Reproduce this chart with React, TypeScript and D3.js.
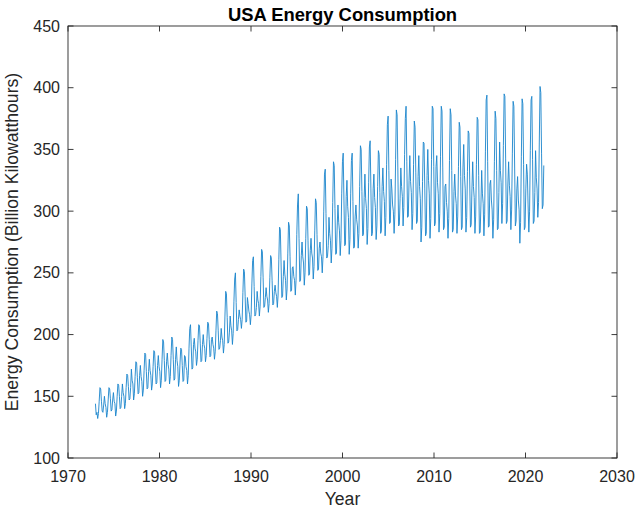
import React from "react";
import * as d3 from "d3";

// monthly values, Jan 1973 .. Dec 2022, billion kWh
const startYear = 1973;
const endYear = 2022;
const consumption: number[] = [
    144, 135, 137, 132, 136, 146, 157, 156, 146, 138, 137, 143, // 1973
    150, 144, 141, 133, 137, 147, 157, 156, 148, 138, 139, 147, // 1974
    153, 146, 144, 134, 138, 150, 160, 159, 150, 140, 141, 150, // 1975
    160, 153, 150, 140, 144, 157, 168, 167, 158, 147, 148, 157, // 1976
    172, 163, 160, 147, 152, 166, 178, 177, 165, 152, 153, 167, // 1977
    175, 166, 162, 150, 155, 171, 185, 184, 170, 156, 157, 170, // 1978
    180, 171, 167, 155, 160, 174, 187, 186, 173, 160, 161, 175, // 1979
    183, 174, 170, 157, 163, 180, 196, 194, 179, 162, 163, 178, // 1980
    185, 176, 172, 160, 166, 183, 198, 196, 180, 163, 164, 180, // 1981
    190, 179, 174, 158, 163, 177, 189, 188, 175, 162, 163, 183, // 1982
    182, 174, 171, 160, 167, 189, 205, 208, 190, 172, 173, 192, // 1983
    197, 189, 186, 175, 180, 195, 208, 207, 193, 178, 179, 192, // 1984
    200, 192, 189, 178, 183, 197, 210, 209, 196, 182, 183, 196, // 1985
    198, 192, 189, 180, 186, 203, 219, 217, 203, 188, 189, 195, // 1986
    205, 198, 195, 185, 192, 215, 235, 233, 214, 193, 194, 202, // 1987
    215, 207, 203, 192, 201, 227, 245, 250, 226, 203, 204, 212, // 1988
    220, 215, 212, 205, 212, 234, 253, 251, 231, 210, 211, 230, // 1989
    225, 219, 216, 208, 216, 241, 260, 263, 239, 215, 216, 222, // 1990
    235, 228, 225, 215, 223, 247, 269, 267, 246, 222, 223, 230, // 1991
    238, 231, 228, 218, 225, 246, 264, 262, 244, 224, 225, 235, // 1992
    240, 234, 231, 222, 232, 261, 287, 285, 258, 230, 231, 247, // 1993
    260, 249, 244, 228, 237, 266, 291, 288, 263, 235, 236, 254, // 1994
    255, 247, 244, 232, 244, 281, 305, 314, 278, 243, 244, 264, // 1995
    275, 263, 258, 240, 250, 278, 304, 302, 276, 248, 249, 268, // 1996
    278, 266, 262, 245, 255, 284, 310, 307, 281, 252, 253, 270, // 1997
    275, 266, 263, 250, 263, 300, 330, 334, 298, 262, 263, 272, // 1998
    295, 282, 276, 258, 270, 307, 340, 337, 302, 265, 266, 288, // 1999
    305, 291, 284, 264, 276, 314, 340, 347, 309, 272, 273, 312, // 2000
    325, 304, 295, 265, 277, 314, 341, 347, 308, 270, 271, 296, // 2001
    305, 293, 288, 270, 282, 320, 353, 350, 316, 280, 281, 311, // 2002
    330, 310, 302, 273, 286, 323, 352, 357, 318, 280, 282, 318, // 2003
    330, 311, 303, 277, 288, 320, 349, 346, 315, 282, 284, 320, // 2004
    335, 316, 308, 280, 295, 338, 370, 377, 333, 290, 291, 326, // 2005
    318, 305, 300, 282, 297, 342, 382, 378, 335, 288, 289, 310, // 2006
    335, 320, 312, 288, 303, 346, 375, 385, 340, 295, 296, 325, // 2007
    345, 324, 315, 285, 298, 338, 373, 368, 331, 290, 292, 328, // 2008
    345, 320, 310, 275, 287, 324, 356, 355, 318, 280, 282, 329, // 2009
    350, 325, 314, 278, 294, 342, 385, 383, 336, 288, 290, 336, // 2010
    345, 323, 314, 283, 298, 344, 385, 381, 335, 285, 287, 320, // 2011
    322, 307, 300, 278, 294, 341, 383, 378, 333, 283, 285, 316, // 2012
    330, 313, 306, 282, 296, 336, 372, 368, 328, 285, 287, 335, // 2013
    354, 329, 318, 283, 295, 332, 365, 363, 326, 287, 289, 318, // 2014
    340, 320, 311, 282, 296, 338, 376, 374, 329, 282, 283, 305, // 2015
    333, 314, 306, 280, 297, 348, 390, 394, 340, 287, 288, 322, // 2016
    325, 309, 301, 278, 293, 340, 381, 375, 333, 285, 286, 315, // 2017
    356, 333, 323, 290, 306, 353, 395, 393, 343, 290, 292, 322, // 2018
    340, 321, 312, 285, 301, 347, 389, 385, 339, 288, 292, 318, // 2019
    328, 309, 301, 274, 291, 344, 391, 387, 338, 285, 287, 318, // 2020
    338, 330, 305, 283, 300, 349, 390, 393, 342, 290, 292, 315, // 2021
    349, 327, 318, 295, 307, 356, 401, 396, 347, 302, 305, 337, // 2022
];

const xTicks = [1970, 1980, 1990, 2000, 2010, 2020, 2030];
const yTicks = [100, 150, 200, 250, 300, 350, 400, 450];

const W = 640;
const H = 514;
const margin = { left: 68, right: 23, top: 26, bottom: 56 };
const axisColor = "#262626";
const lineColor = "#1a84cc";
const font = "Liberation Sans, Arial, Helvetica, sans-serif";

export default function App() {
    const plotW = W - margin.left - margin.right;
    const plotH = H - margin.top - margin.bottom;

    const xScale = d3.scaleLinear().domain([1970, 2030]).range([0, plotW]);
    const yScale = d3.scaleLinear().domain([100, 450]).range([plotH, 0]);
    // sample index -> year, spread evenly between start and end year
    const timeOf = d3.scaleLinear()
        .domain([0, consumption.length - 1])
        .range([startYear, endYear]);

    const line = d3.line<number>()
        .x((d, i) => xScale(timeOf(i)))
        .y(d => yScale(d));

    const tickLen = 5.5;

    return (
        <svg width={W} height={H} style={{ position: "absolute", left: 0, top: 0, background: "#fff" }}>
            <text x={margin.left + plotW / 2} y={21} textAnchor="middle"
                fontFamily={font} fontWeight="bold" fontSize={18.4} fill="#000">
                USA Energy Consumption
            </text>
            <g transform={`translate(${margin.left},${margin.top})`}>
                <path d={line(consumption) || ""} fill="none" stroke={lineColor}
                    strokeWidth={0.9} strokeLinejoin="round" />
                <rect x={0} y={0} width={plotW} height={plotH} fill="none"
                    stroke={axisColor} strokeWidth={0.9} />
                {xTicks.map(t => (
                    <g key={"x" + t}>
                        <line x1={xScale(t)} x2={xScale(t)} y1={plotH} y2={plotH - tickLen}
                            stroke={axisColor} strokeWidth={0.9} />
                        <line x1={xScale(t)} x2={xScale(t)} y1={0} y2={tickLen}
                            stroke={axisColor} strokeWidth={0.9} />
                        <text x={xScale(t)} y={plotH + 24} textAnchor="middle"
                            fontFamily={font} fontSize={16} fill={axisColor}>{t}</text>
                    </g>
                ))}
                {yTicks.map(t => (
                    <g key={"y" + t}>
                        <line x1={0} x2={tickLen} y1={yScale(t)} y2={yScale(t)}
                            stroke={axisColor} strokeWidth={0.9} />
                        <line x1={plotW} x2={plotW - tickLen} y1={yScale(t)} y2={yScale(t)}
                            stroke={axisColor} strokeWidth={0.9} />
                        <text x={-8} y={yScale(t)} dy="0.35em" textAnchor="end"
                            fontFamily={font} fontSize={16} fill={axisColor}>{t}</text>
                    </g>
                ))}
                <text x={plotW / 2} y={plotH + 47} textAnchor="middle"
                    fontFamily={font} fontSize={17.6} fill={axisColor}>Year</text>
                <text transform={`translate(${-50},${plotH / 2}) rotate(-90)`} textAnchor="middle"
                    fontFamily={font} fontSize={17.6} fill={axisColor}>
                    Energy Consumption (Billion Kilowatthours)
                </text>
            </g>
        </svg>
    );
}
